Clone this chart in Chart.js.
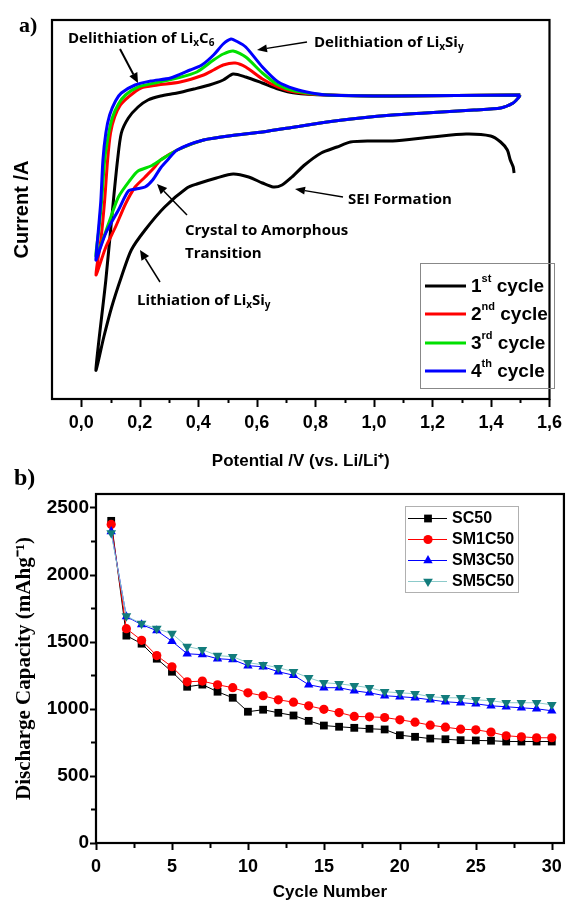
<!DOCTYPE html>
<html><head><meta charset="utf-8">
<script src="https://cdn.jsdelivr.net/npm/chart.js@4.4.1/dist/chart.umd.min.js"></script>
<style>
html,body{margin:0;padding:0;background:#fff;}
#wrap{position:relative;width:575px;height:906px;overflow:hidden;background:#fff;}
canvas{position:absolute;left:0;}
</style></head><body>
<div id="wrap">
<canvas id="ca" width="575" height="480" style="top:0"></canvas>
<canvas id="cb" width="575" height="443" style="top:463px"></canvas>
</div>
<script>
// ================= Panel a: cyclic voltammetry (arbitrary current units) =================
const cv1V = [1.479,1.476,1.466,1.456,1.433,1.399,1.315,1.198,1.064,0.987,0.920,0.874,0.820,0.763,0.720,0.686,0.656,0.619,0.572,0.519,0.462,0.395,0.361,0.285,0.218,0.171,0.137,0.104,0.077,0.050,0.084,0.110,0.124,0.137,0.161,0.194,0.228,0.271,0.328,0.385,0.438,0.485,0.519,0.562,0.619,0.673,0.730,0.840,1.064,1.500];
const cv1I = [-43,-37,-30,-20,-12,-6,-4,-7,-11,-11,-12,-17,-23,-35,-47,-55,-57,-53,-47,-44,-48,-54,-58,-77,-100,-120,-147,-177,-207,-240,-150,-70,-30,-3,12,23,30,34,37,41,45,50,56,53,47,41,37,35,34,35];

const cv2V = [1.500,1.493,1.476,1.433,1.342,1.175,1.064,0.954,0.840,0.730,0.619,0.529,0.418,0.328,0.271,0.251,0.218,0.184,0.151,0.117,0.084,0.050,0.067,0.080,0.090,0.100,0.114,0.134,0.161,0.204,0.261,0.338,0.418,0.452,0.485,0.526,0.562,0.619,0.673,0.730,0.840,1.064,1.500];
const cv2I = [35,32,27,22,20,17,15,12,8,3,-2,-5,-10,-20,-30,-37,-47,-57,-74,-97,-117,-145,-110,-70,-30,-3,13,25,33,42,45,48,55,60,65,67,63,51,43,38,35,34,35];

const cv3V = [1.500,1.493,1.476,1.433,1.342,1.175,1.064,0.954,0.840,0.730,0.619,0.529,0.418,0.328,0.271,0.238,0.194,0.167,0.127,0.094,0.067,0.050,0.060,0.070,0.080,0.094,0.107,0.127,0.151,0.194,0.251,0.328,0.395,0.452,0.485,0.519,0.562,0.619,0.673,0.730,0.840,1.064,1.500];
const cv3I = [35,32,27,22,20,17,15,12,8,3,-2,-5,-10,-20,-30,-36,-41,-50,-67,-93,-115,-126,-100,-70,-30,-3,13,26,35,43,47,52,58,70,76,79,73,57,45,39,35,34,35];

const cv4V = [1.500,1.493,1.476,1.433,1.342,1.175,1.064,0.954,0.840,0.730,0.619,0.529,0.418,0.328,0.295,0.271,0.244,0.218,0.187,0.161,0.127,0.084,0.057,0.050,0.060,0.067,0.074,0.084,0.097,0.117,0.137,0.184,0.238,0.305,0.372,0.412,0.452,0.485,0.512,0.529,0.562,0.619,0.673,0.730,0.787,0.840,1.064,1.500];
const cv4I = [35,32,27,22,20,17,15,12,8,3,-2,-5,-10,-20,-30,-38,-50,-57,-59,-61,-80,-103,-125,-130,-95,-70,-30,-3,15,29,37,45,49,52,60,65,75,86,91,89,83,63,48,41,37,35,34,35];

const cvNames  = ['1st cycle','2nd cycle','3rd cycle','4th cycle'];
const cvColors = ['#000000','#ff0000','#00e000','#0000ff'];
const xTicksA = [0,0.2,0.4,0.6,0.8,1.0,1.2,1.4,1.6];
const xTickLabelsA = ['0,0','0,2','0,4','0,6','0,8','1,0','1,2','1,4','1,6'];

// ================= Panel b: discharge capacity =================
const cycleNo = [1,2,3,4,5,6,7,8,9,10,11,12,13,14,15,16,17,18,19,20,21,22,23,24,25,26,27,28,29,30];
const sc50   = [2400,1545,1485,1373,1276,1164,1180,1127,1082,978,993,970,950,910,875,866,858,851,846,803,791,778,773,766,764,762,756,756,756,756];
const sm1c50 = [2373,1597,1510,1396,1313,1201,1206,1179,1157,1119,1097,1067,1049,1022,996,972,943,940,935,918,900,878,863,848,843,826,799,791,784,784];
const sm3c50 = [2321,1687,1627,1582,1503,1410,1403,1373,1366,1321,1313,1276,1250,1179,1157,1157,1134,1119,1097,1090,1082,1067,1052,1045,1037,1022,1015,1007,1000,985];
const sm5c50 = [2310,1690,1634,1597,1560,1463,1440,1396,1388,1343,1328,1306,1276,1231,1194,1186,1172,1157,1127,1119,1112,1090,1082,1082,1067,1060,1045,1045,1045,1030];
const seriesNamesB = ['SC50','SM1C50','SM3C50','SM5C50'];
const xTicksB = [0,5,10,15,20,25,30];
const yTicksB = [0,500,1000,1500,2000,2500];

// ================= helpers =================
const SANS = "'Liberation Sans', Arial, Helvetica, sans-serif";
const SERIF = "'Liberation Serif', 'Times New Roman', serif";
const ANN = "'Open Sans', Lato, 'Noto Sans', sans-serif";

function richText(ctx, x, y, parts, size, family, weight) {
  let cx = x;
  const w = weight || 'bold';
  for (const [t, kind] of parts) {
    let fs = size, dy = 0;
    if (kind === 'sub') { fs = Math.round(size * 0.65); dy = size * 0.22; }
    else if (kind === 'sup') { fs = Math.round(size * 0.6); dy = -size * 0.42; }
    ctx.font = w + ' ' + fs + 'px ' + family;
    ctx.fillText(t, cx, y + dy);
    cx += ctx.measureText(t).width;
  }
  return cx;
}
function arrow(ctx, x1, y1, x2, y2, lw, head, hw) {
  const a = Math.atan2(y2 - y1, x2 - x1);
  const bx = x2 - head * Math.cos(a), by = y2 - head * Math.sin(a);
  ctx.beginPath(); ctx.moveTo(x1, y1); ctx.lineTo(bx, by);
  ctx.lineWidth = lw; ctx.strokeStyle = '#000'; ctx.stroke();
  ctx.beginPath(); ctx.moveTo(x2, y2);
  ctx.lineTo(bx - hw * Math.sin(a), by + hw * Math.cos(a));
  ctx.lineTo(bx + hw * Math.sin(a), by - hw * Math.cos(a));
  ctx.closePath(); ctx.fillStyle = '#000'; ctx.fill();
}
function frame(ctx, a, lw) {
  ctx.save(); ctx.strokeStyle = '#000'; ctx.lineWidth = lw;
  ctx.strokeRect(a.left, a.top, a.right - a.left, a.bottom - a.top);
  ctx.restore();
}
function marker(ctx, style, x, y, r, color) {
  ctx.fillStyle = color; ctx.beginPath();
  if (style === 'rect') { const s = r * Math.SQRT1_2; ctx.rect(x - s, y - s, 2 * s, 2 * s); }
  else if (style === 'circle') { ctx.arc(x, y, r, 0, Math.PI * 2); }
  else if (style === 'triangle') { ctx.moveTo(x, y - r); ctx.lineTo(x + r * 0.866, y + r / 2); ctx.lineTo(x - r * 0.866, y + r / 2); ctx.closePath(); }
  else { ctx.moveTo(x, y + r); ctx.lineTo(x + r * 0.866, y - r / 2); ctx.lineTo(x - r * 0.866, y - r / 2); ctx.closePath(); }
  ctx.fill();
}

// ================= Chart a =================
const cvV = [cv1V, cv2V, cv3V, cv4V];
const cvI = [cv1I, cv2I, cv3I, cv4I];
const dsA = cvNames.map((n, k) => ({
  label: n,
  data: cvV[k].map((v, i) => ({ x: v, y: cvI[k][i] })),
  showLine: true, borderColor: cvColors[k], backgroundColor: cvColors[k],
  borderWidth: 3, pointRadius: 0, tension: 0.25, order: 3 - k
}));

const decoA = {
  id: 'decoA',
  afterDraw(chart) {
    const ctx = chart.ctx, a = chart.chartArea, xs = chart.scales.x;
    ctx.save();
    frame(ctx, a, 2.2);
    ctx.strokeStyle = '#000'; ctx.lineWidth = 2;
    for (let i = 0; i <= 16; i++) {
      const px = Math.round(xs.getPixelForValue(i / 10)) + 0.5;
      const len = i % 2 === 0 ? 8 : 4;
      ctx.beginPath(); ctx.moveTo(px, a.bottom); ctx.lineTo(px, a.bottom + len); ctx.stroke();
    }
    // legend
    ctx.strokeStyle = '#888'; ctx.lineWidth = 1;
    ctx.strokeRect(420.5, 263.5, 134, 125);
    const ly = [286, 314, 343, 371];
    const sups = [['1','st'],['2','nd'],['3','rd'],['4','th']];
    ctx.textBaseline = 'middle'; ctx.fillStyle = '#000';
    for (let k = 0; k < 4; k++) {
      ctx.strokeStyle = cvColors[k]; ctx.lineWidth = 3;
      ctx.beginPath(); ctx.moveTo(425, ly[k]); ctx.lineTo(466, ly[k]); ctx.stroke();
      ctx.fillStyle = '#000';
      richText(ctx, 471, ly[k] + 1, [[sups[k][0], 'n'], [sups[k][1], 'sup'], [' cycle', 'n']], 19, SANS);
    }
    // annotations
    ctx.textBaseline = 'alphabetic'; ctx.fillStyle = '#000';
    const fs = 15;
    richText(ctx, 68, 43, [['Delithiation of Li','n'],['x','sub'],['C','n'],['6','sub']], fs, ANN, 'bold');
    arrow(ctx, 120, 49, 138, 83, 2, 10, 4.5);
    richText(ctx, 314, 47, [['Delithiation of Li','n'],['x','sub'],['Si','n'],['y','sub']], fs, ANN, 'bold');
    arrow(ctx, 307, 42, 257, 50, 1.3, 10, 4);
    richText(ctx, 348, 204, [['SEI Formation','n']], fs, ANN, 'bold');
    arrow(ctx, 343, 197, 295, 189, 1.3, 10, 4);
    richText(ctx, 185, 235, [['Crystal to Amorphous','n']], fs, ANN, 'bold');
    richText(ctx, 185, 258, [['Transition','n']], fs, ANN, 'bold');
    arrow(ctx, 187, 215, 157, 184, 1.5, 10, 4.5);
    richText(ctx, 137, 305, [['Lithiation of Li','n'],['x','sub'],['Si','n'],['y','sub']], fs, ANN, 'bold');
    arrow(ctx, 160, 282, 140, 250, 1.5, 10, 4.5);
    ctx.font = 'bold 22px ' + SERIF; ctx.fillText('a)', 19, 32);
    ctx.restore();
  }
};

new Chart(document.getElementById('ca'), {
  type: 'scatter',
  data: { datasets: dsA },
  options: {
    responsive: false, animation: false, devicePixelRatio: 1,
    layout: { padding: { top: 20, right: 16, left: 0, bottom: 0 } },
    plugins: { legend: { display: false }, tooltip: { enabled: false } },
    scales: {
      x: {
        type: 'linear', min: -0.1, max: 1.6,
        grid: { display: false, drawTicks: false }, border: { display: false },
        afterBuildTicks: s => { s.ticks = xTicksA.map(v => ({ value: v })); },
        ticks: { padding: 13, color: '#000', autoSkip: false, maxRotation: 0,
                 font: { family: SANS, size: 18, weight: 'bold' },
                 callback: (v, i) => xTickLabelsA[i] },
        afterFit: s => { s.height = 81; },
        title: { display: true, text: 'Potential /V (vs. Li/Li\u207A)', color: '#000',
                 font: { family: SANS, size: 17, weight: 'bold' }, padding: { top: 0, bottom: 8 } }
      },
      y: {
        type: 'linear', min: -269, max: 110,
        grid: { display: false, drawTicks: false }, border: { display: false },
        ticks: { display: false },
        afterFit: s => { s.width = 52; },
        title: { display: true, text: 'Current /A', color: '#000',
                 font: { family: SANS, size: 20, weight: 'bold' }, padding: { top: 10, bottom: 0 } }
      }
    }
  },
  plugins: [decoA]
});

// ================= Chart b =================
const seriesB = [sc50, sm1c50, sm3c50, sm5c50];
const lineColB = ['#000000', '#ff0000', '#0000ff', '#8ccaca'];
const markColB = ['#000000', '#ff0000', '#0000ff', '#127c7c'];
const styleB = ['rect', 'circle', 'triangle', 'triangle'];
const rotB = [0, 0, 0, 180];
const radB = [5.5, 4.6, 5.4, 5.6];
const dsB = seriesNamesB.map((n, k) => ({
  label: n,
  data: cycleNo.map((c, i) => ({ x: c, y: seriesB[k][i] })),
  showLine: true, borderColor: lineColB[k], borderWidth: 1,
  pointStyle: styleB[k], rotation: rotB[k], pointRadius: radB[k],
  pointBackgroundColor: markColB[k], pointBorderColor: markColB[k], pointBorderWidth: 0,
  tension: 0, order: 3 - k
}));

const decoB = {
  id: 'decoB',
  afterDraw(chart) {
    const ctx = chart.ctx, a = chart.chartArea, xs = chart.scales.x, ys = chart.scales.y;
    ctx.save();
    frame(ctx, a, 2.2);
    ctx.strokeStyle = '#000'; ctx.lineWidth = 2;
    for (let i = 0; i <= 12; i++) {
      const px = Math.round(xs.getPixelForValue(i * 2.5)) + 0.5;
      const len = i % 2 === 0 ? 7 : 5;
      ctx.beginPath(); ctx.moveTo(px, a.bottom); ctx.lineTo(px, a.bottom + len); ctx.stroke();
    }
    for (let i = 0; i <= 10; i++) {
      const py = Math.round(ys.getPixelForValue(i * 250)) + 0.5;
      const len = i % 2 === 0 ? 6 : 5;
      ctx.beginPath(); ctx.moveTo(a.left, py); ctx.lineTo(a.left - len, py); ctx.stroke();
    }
    // legend
    ctx.strokeStyle = '#b0b0b0'; ctx.lineWidth = 1;
    ctx.strokeRect(405.5, 43.5, 113, 86);
    const ly = [55, 76, 97, 118];
    ctx.textBaseline = 'middle';
    for (let k = 0; k < 4; k++) {
      ctx.strokeStyle = lineColB[k]; ctx.lineWidth = 1;
      ctx.beginPath(); ctx.moveTo(408, ly[k] + 0.5); ctx.lineTo(447, ly[k] + 0.5); ctx.stroke();
      marker(ctx, k === 3 ? 'down' : styleB[k], 428, ly[k] + 0.5, radB[k], markColB[k]);
      ctx.fillStyle = '#000'; ctx.font = 'bold 16px ' + SANS;
      ctx.fillText(seriesNamesB[k], 452, ly[k] + 1);
    }
    ctx.textBaseline = 'alphabetic'; ctx.fillStyle = '#000';
    ctx.font = 'bold 24px ' + SERIF; ctx.fillText('b)', 14, 22);
    ctx.restore();
  }
};

new Chart(document.getElementById('cb'), {
  type: 'scatter',
  data: { datasets: dsB },
  options: {
    responsive: false, animation: false, devicePixelRatio: 1,
    layout: { padding: { top: 31, right: 8, left: 0, bottom: 0 } },
    plugins: { legend: { display: false }, tooltip: { enabled: false } },
    scales: {
      x: {
        type: 'linear', min: 0, max: 30.8,
        grid: { display: false, drawTicks: false }, border: { display: false },
        afterBuildTicks: s => { s.ticks = xTicksB.map(v => ({ value: v })); },
        ticks: { padding: 13, color: '#000', autoSkip: false, maxRotation: 0,
                 font: { family: SANS, size: 18, weight: 'bold' }, callback: v => String(v) },
        afterFit: s => { s.height = 63; },
        title: { display: true, text: 'Cycle Number', color: '#000',
                 font: { family: SANS, size: 17, weight: 'bold' }, padding: { top: 0, bottom: 3 } }
      },
      y: {
        type: 'linear', min: 0, max: 2600,
        grid: { display: false, drawTicks: false }, border: { display: false },
        afterBuildTicks: s => { s.ticks = yTicksB.map(v => ({ value: v })); },
        ticks: { padding: 7, color: '#000', autoSkip: false,
                 font: { family: SANS, size: 19, weight: 'bold' }, callback: v => String(v) },
        afterFit: s => { s.width = 96; },
        title: { display: true, text: 'Discharge Capacity (mAhg\u207B\u00B9)', color: '#000',
                 font: { family: SERIF, size: 21, weight: 'bold' }, padding: { top: 12, bottom: 0 } }
      }
    }
  },
  plugins: [decoB]
});
</script>
</body></html>
